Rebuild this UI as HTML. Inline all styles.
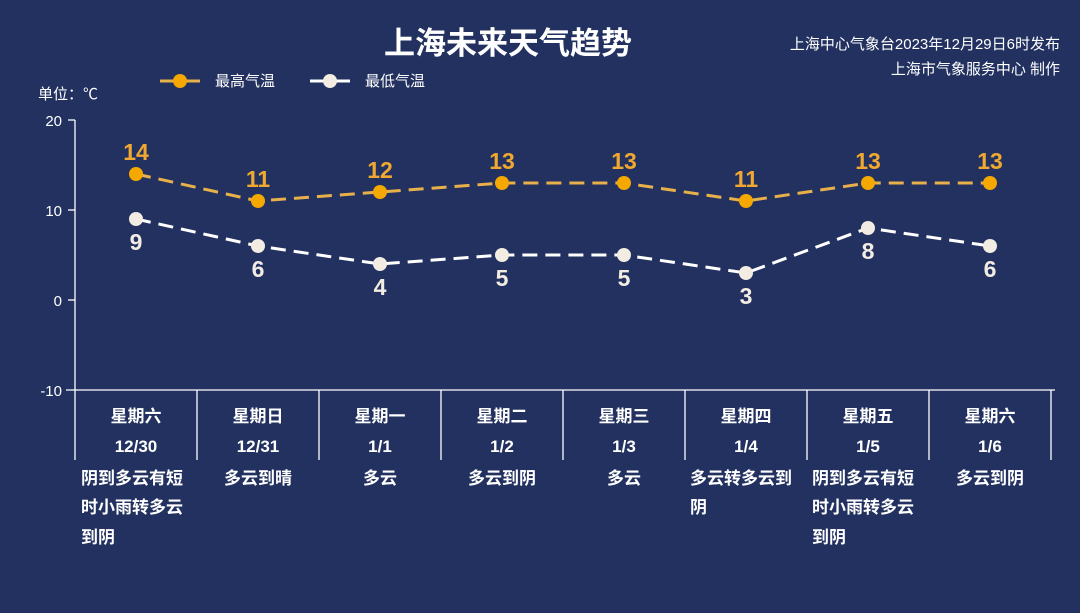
<!DOCTYPE html>
<html><head><meta charset="utf-8"><style>
body{margin:0;width:1080px;height:613px;background:#22315f;overflow:hidden;font-family:"Liberation Sans","Noto Sans CJK SC",sans-serif;}
svg{position:absolute;left:0;top:0}
</style></head><body>
<svg width="1080" height="613" font-family="Liberation Sans, Noto Sans CJK SC, sans-serif">
<text x="508" y="54" fill="#fff" font-size="31" font-weight="bold" text-anchor="middle">上海未来天气趋势</text>
<text x="1060" y="49" fill="#fff" font-size="15" text-anchor="end">上海中心气象台2023年12月29日6时发布</text>
<text x="1060" y="74" fill="#fff" font-size="15" text-anchor="end">上海市气象服务中心 制作</text>
<line x1="160" y1="81" x2="200" y2="81" stroke="#e8b04a" stroke-width="3"/><circle cx="180" cy="81" r="7" fill="#f5a800"/>
<text x="215" y="86" fill="#fff" font-size="15">最高气温</text>
<line x1="310" y1="81" x2="350" y2="81" stroke="#fff" stroke-width="3"/><circle cx="330" cy="81" r="7" fill="#f3ece2"/>
<text x="365" y="86" fill="#fff" font-size="15">最低气温</text>
<text x="38" y="99" fill="#fff" font-size="15">单位：℃</text>
<g stroke="#fff" stroke-width="1.3">
<line x1="75" y1="120" x2="75" y2="460"/>
<line x1="68" y1="120" x2="75" y2="120"/><line x1="68" y1="210" x2="75" y2="210"/><line x1="68" y1="300" x2="75" y2="300"/>
<line x1="66" y1="390" x2="1055" y2="390"/>
<line x1="197" y1="390" x2="197" y2="460"/><line x1="319" y1="390" x2="319" y2="460"/><line x1="441" y1="390" x2="441" y2="460"/><line x1="563" y1="390" x2="563" y2="460"/><line x1="685" y1="390" x2="685" y2="460"/><line x1="807" y1="390" x2="807" y2="460"/><line x1="929" y1="390" x2="929" y2="460"/><line x1="1051" y1="390" x2="1051" y2="460"/>
</g>
<g fill="#fff" font-size="15" text-anchor="end">
<text x="62" y="126">20</text><text x="62" y="216">10</text><text x="62" y="306">0</text><text x="62" y="396">-10</text>
</g>
<polyline points="136,174 258,201 380,192 502,183 624,183 746,201 868,183 990,183" fill="none" stroke="#e8b04a" stroke-width="3" stroke-dasharray="15,8"/>
<polyline points="136,219 258,246 380,264 502,255 624,255 746,273 868,228 990,246" fill="none" stroke="#fff" stroke-width="3" stroke-dasharray="15,8"/>
<g fill="#f5a800"><circle cx="136" cy="174" r="7"/><circle cx="258" cy="201" r="7"/><circle cx="380" cy="192" r="7"/><circle cx="502" cy="183" r="7"/><circle cx="624" cy="183" r="7"/><circle cx="746" cy="201" r="7"/><circle cx="868" cy="183" r="7"/><circle cx="990" cy="183" r="7"/></g>
<g fill="#f3ece2"><circle cx="136" cy="219" r="7"/><circle cx="258" cy="246" r="7"/><circle cx="380" cy="264" r="7"/><circle cx="502" cy="255" r="7"/><circle cx="624" cy="255" r="7"/><circle cx="746" cy="273" r="7"/><circle cx="868" cy="228" r="7"/><circle cx="990" cy="246" r="7"/></g>
<g fill="#f0a830" font-size="23" font-weight="bold" text-anchor="middle">
<text x="136" y="160">14</text><text x="258" y="187">11</text><text x="380" y="178">12</text><text x="502" y="169">13</text><text x="624" y="169">13</text><text x="746" y="187">11</text><text x="868" y="169">13</text><text x="990" y="169">13</text>
</g>
<g fill="#f3ece2" font-size="23" font-weight="bold" text-anchor="middle">
<text x="136" y="250">9</text><text x="258" y="277">6</text><text x="380" y="295">4</text><text x="502" y="286">5</text><text x="624" y="286">5</text><text x="746" y="304">3</text><text x="868" y="259">8</text><text x="990" y="277">6</text>
</g>
<g fill="#fff" font-size="17" font-weight="bold" text-anchor="middle">
<text x="136" y="422">星期六</text><text x="258" y="422">星期日</text><text x="380" y="422">星期一</text><text x="502" y="422">星期二</text><text x="624" y="422">星期三</text><text x="746" y="422">星期四</text><text x="868" y="422">星期五</text><text x="990" y="422">星期六</text>
<text x="136" y="452">12/30</text><text x="258" y="452">12/31</text><text x="380" y="452">1/1</text><text x="502" y="452">1/2</text><text x="624" y="452">1/3</text><text x="746" y="452">1/4</text><text x="868" y="452">1/5</text><text x="990" y="452">1/6</text>
</g>
<g fill="#fff" font-size="17" font-weight="bold" text-anchor="middle">
<text x="258" y="484">多云到晴</text><text x="380" y="484">多云</text><text x="502" y="484">多云到阴</text><text x="624" y="484">多云</text><text x="990" y="484">多云到阴</text>
</g>
<g fill="#fff" font-size="17" font-weight="bold">
<text x="81" y="484">阴到多云有短</text><text x="81" y="513">时小雨转多云</text><text x="81" y="543">到阴</text>
<text x="690" y="484">多云转多云到</text><text x="690" y="513">阴</text>
<text x="812" y="484">阴到多云有短</text><text x="812" y="513">时小雨转多云</text><text x="812" y="543">到阴</text>
</g>
</svg>
</body></html>
